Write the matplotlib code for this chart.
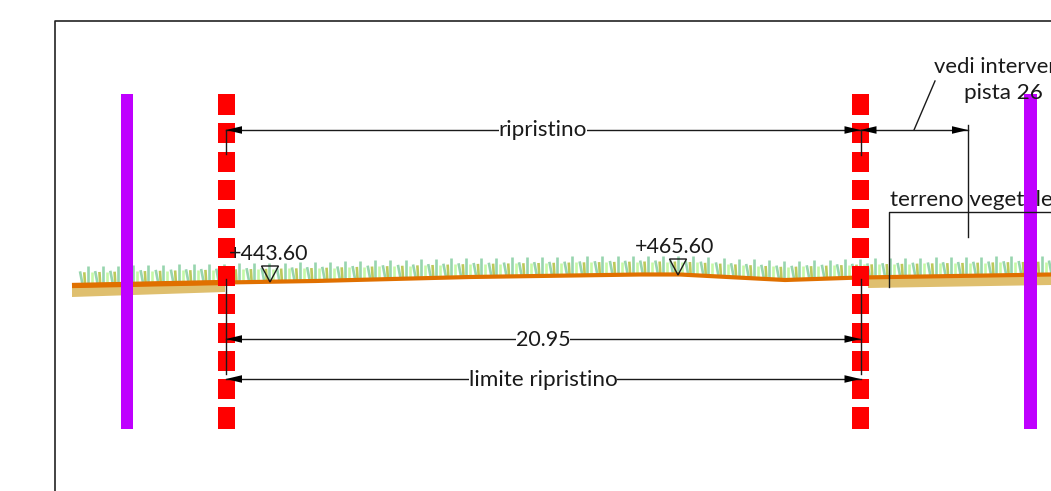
import matplotlib
matplotlib.use("Agg")
import matplotlib.pyplot as plt
from matplotlib.patches import Polygon, Rectangle

plt.rcParams['font.family'] = ['Lato', 'DejaVu Sans']

# Section read-off, in drawing units (picture pixels)
ground_x = [72, 225, 315, 470, 640, 680, 785, 860, 1051]
ground_y = [285.5, 282.5, 281, 277, 274.5, 274.5, 280, 277.5, 274.5]
soil_left_x = [72, 225, 225, 72]
soil_left_y = [285, 282, 292, 297]
soil_right_x = [868, 1051, 1051, 868]
soil_right_y = [279, 274, 285, 288]
limit_x = [226, 860]
limit_tops = [94, 123, 152, 180, 209, 238, 266, 294, 323, 351, 379, 407]
limit_bottoms = [115, 143, 172, 200, 228, 258, 286, 314, 343, 371, 399, 429]
fence_x = [127, 1030.5]
fence_span = [94, 429]
grass_offsets = [0.0, 4.3, 7.7, 11.7]
grass_heights = [14, 13, 19, 13]
grass_leans = [2.7, 0.8, 0, 0]
grass_colors = ['#97d5ae', '#bcc95a', '#97d5ae', '#c6f9a6']
grass_period = 15.14
levels = ['+443.60', '+465.60']
level_x = [270, 678]
level_y = [282, 275]
level_label_x = [268.5, 675]
level_label_y = [254, 247]

INK = '#1a1a1a'
FS = 16.2
FS_NUM = 15.4
fig = plt.figure(figsize=(10.51, 4.91), dpi=100)
ax = fig.add_axes([0, 0, 1, 1])
ax.set_xlim(0, 1051)
ax.set_ylim(491, 0)
ax.axis('off')


def ground_at(x):
    for i in range(len(ground_x) - 1):
        if ground_x[i] <= x <= ground_x[i + 1]:
            t = (x - ground_x[i]) / (ground_x[i + 1] - ground_x[i])
            return ground_y[i] + t * (ground_y[i + 1] - ground_y[i])
    return ground_y[-1]


# sheet frame
ax.plot([55, 55, 1051], [491, 21, 21], color='#222222', lw=1.2, zorder=1)

# grass
start = 80.0
while start < 1051:
    for off, h, lean, c in zip(grass_offsets, grass_heights, grass_leans, grass_colors):
        x = start + off
        if x < 1051:
            base = ground_at(x)
            ax.plot([x, x + lean], [base - h, base], color=c, lw=1.9, solid_capstyle='butt', zorder=2)
    start += grass_period

# soil and ground line
ax.add_patch(Polygon(list(zip(soil_left_x, soil_left_y)), color='#dfbf6e', lw=0, zorder=3))
ax.add_patch(Polygon(list(zip(soil_right_x, soil_right_y)), color='#dfbf6e', lw=0, zorder=3))
ax.plot(ground_x, ground_y, color='#e07000', lw=3.0, solid_capstyle='butt', zorder=4)
ax.plot(ground_x[:2], [ground_y[0], ground_y[1]], color='#e07000', lw=3.8, solid_capstyle='butt', zorder=4)

# texts that the fence covers
ax.text(890, 200, 'terreno vegetale', fontsize=FS, color=INK, ha='left', va='center', zorder=4.5, clip_on=True)

# limit and fence lines
for x in limit_x:
    for t, b in zip(limit_tops, limit_bottoms):
        ax.add_patch(Rectangle((x - 8.5, t), 17, b - t, color='#ff0000', lw=0, zorder=5))
for x in fence_x:
    ax.add_patch(Rectangle((x - 6.25, fence_span[0]), 12.5, fence_span[1] - fence_span[0],
                           color='#bf00ff', lw=0, zorder=5))


def line(xs, ys):
    ax.plot(xs, ys, color=INK, lw=1.0, zorder=6)


def head(tip, y, direction):
    ax.add_patch(Polygon([(tip, y), (tip + direction * 16, y - 3.8), (tip + direction * 16, y + 3.8)],
                         fc='black', ec='none', zorder=6.5))


def dim(x0, x1, y, label=None, label_x=None, size=FS):
    line([x0, x1], [y, y])
    head(x0, y, 1)
    head(x1, y, -1)
    if label:
        ax.text(label_x, y + 0.5, label, fontsize=size, color=INK, ha='center', va='center',
                bbox=dict(fc='white', ec='none', pad=0), zorder=7)


# witness lines
line([226, 226], [130, 154])
line([860.5, 860.5], [130, 155])
line([226, 226], [279, 374])
line([860.5, 860.5], [279, 374])
line([968, 968], [125, 237])

dim(226, 860.5, 130, 'ripristino', 543)
dim(860.5, 968, 130)
dim(226, 860.5, 339, '20.95', 543, FS_NUM)
dim(226, 860.5, 379, 'limite ripristino', 543)

# leaders
line([914, 935], [130, 81])
line([889, 889, 1051], [287, 212, 212])

ax.text(934, 67, 'vedi intervento', fontsize=15.8, color=INK, ha='left', va='center', zorder=7, clip_on=True)
ax.text(1003.5, 93, 'pista 26', fontsize=FS, color=INK, ha='center', va='center', zorder=7)

# level markers
for lab, x, y, lx, ly in zip(levels, level_x, level_y, level_label_x, level_label_y):
    ax.add_patch(Polygon([(x - 8.5, y - 16), (x + 8.5, y - 16), (x, y)], fc='none', ec=INK, lw=1.0, zorder=8))
    ax.text(lx, ly, lab, fontsize=FS_NUM, color=INK, ha='center', va='center', zorder=8)

fig.savefig('out.png', dpi=100)
